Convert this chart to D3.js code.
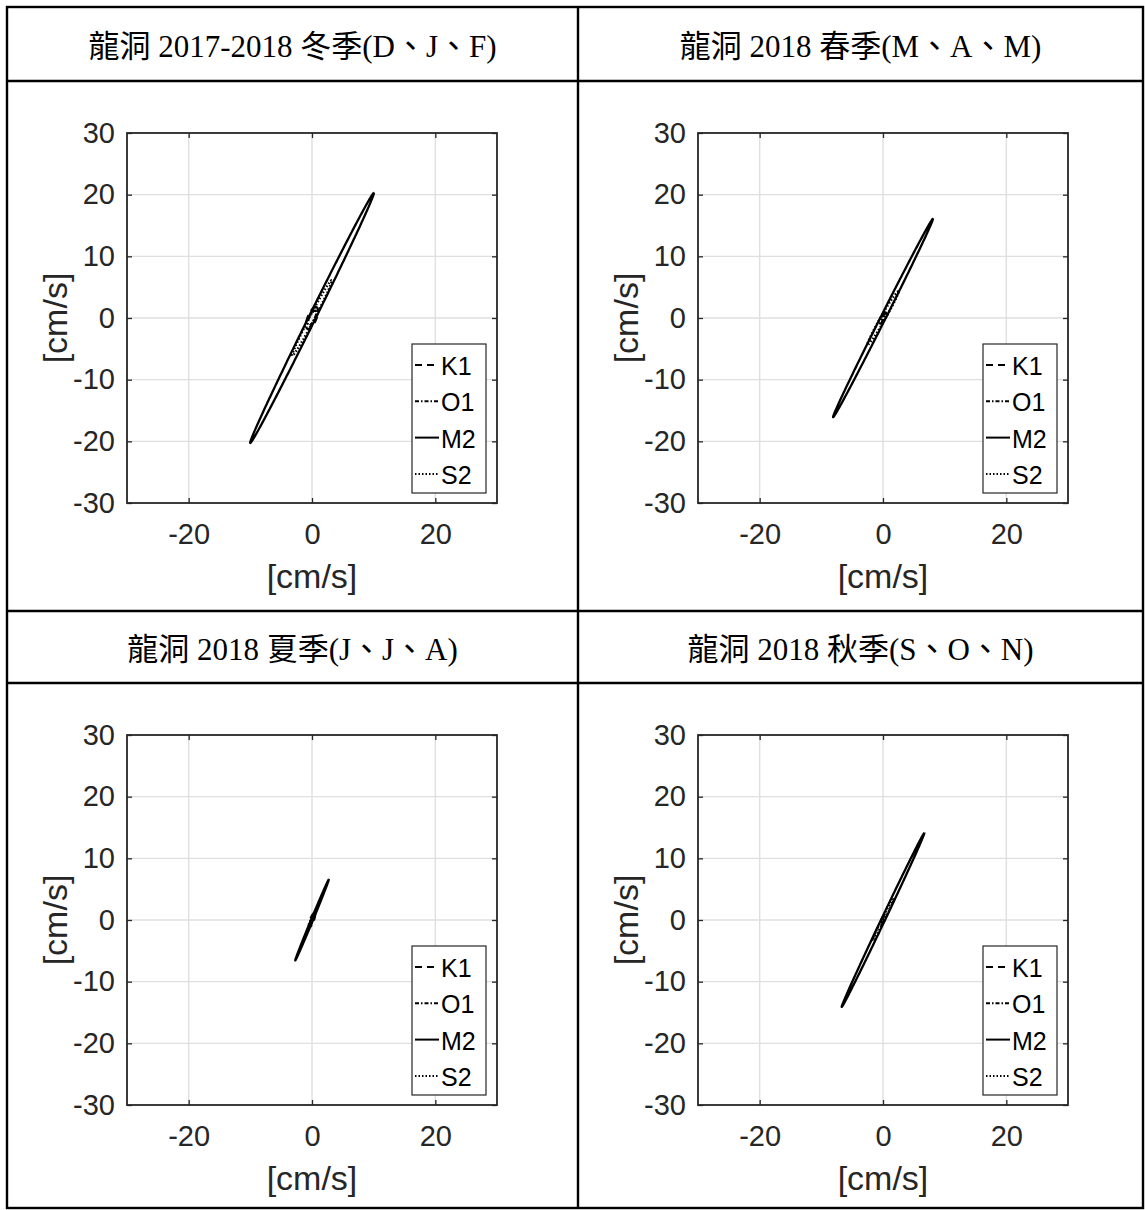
<!DOCTYPE html>
<html>
<head>
<meta charset="utf-8">
<script src="https://cdn.jsdelivr.net/npm/d3@7"></script>
<style>
  html, body { margin: 0; padding: 0; background: #fff; }
  svg { display: block; }
</style>
</head>
<body>
<svg id="chart" width="1145" height="1210"></svg>
<script>
// Season titles, in panel order: winter, spring, summer, autumn
const seasonTitles = [
  "龍洞 2017-2018 冬季(D、J、F)",
  "龍洞 2018 春季(M、A、M)",
  "龍洞 2018 夏季(J、J、A)",
  "龍洞 2018 秋季(S、O、N)"
];

// Tidal constituents, in legend order
const constituents = ["K1", "O1", "M2", "S2"];

// Tidal current ellipse parameters (cm/s and degrees from east),
// one row per constituent (K1, O1, M2, S2), one column per season
const semiMajor = [
  [1.9, 1.0, 1.2, 0.9],    // K1
  [1.3, 0.7, 0.8, 0.6],    // O1
  [22.6, 18.0, 7.1, 15.6], // M2
  [6.9, 5.0, 2.0, 3.8]     // S2
];
const semiMinor = [
  [0.70, 0.30, 0.30, 0.25],
  [0.45, 0.20, 0.20, 0.15],
  [0.55, 0.40, 0.15, 0.30],
  [0.40, 0.38, 0.10, 0.20]
];
const inclination = [
  [68, 65, 70, 66],
  [65, 60, 68, 64],
  [63.7, 63.3, 67.5, 64.6],
  [62.5, 60, 66, 63]
];

// Axis ticks
const xTicks = [-20, 0, 20];
const yTicks = [-30, -20, -10, 0, 10, 20, 30];
const axisDomain = [-30, 30];

// Line styles per constituent
const dashStyles = { K1: "7,5", O1: "4,2,1.5,2", M2: null, S2: "1.5,2" };

const svg = d3.select("#chart");

// ---- table frame ----
const table = { left: 7, right: 1143, top: 7, bottom: 1208, split: 578 };
const rowLines = [81, 611, 683];
const tableColor = "#000";

// ---- panel layout ----
const colLeft = [table.left, table.split];
const colRight = [table.split, table.right];
const headerTop = [table.top, rowLines[1]];
const headerBottom = [rowLines[0], rowLines[2]];
const plotSize = 370;
const plotOffsetX = 120;   // from cell's left edge to the axes box
const plotOffsetY = 52;    // from the header's bottom edge to the axes box

const axisColor = "#262626";
const gridColor = "#dfdfdf";
const tickFont = "'Liberation Sans', Arial, Helvetica, sans-serif";

function ellipsePoints(a, b, incDeg) {
  const th = incDeg * Math.PI / 180;
  return d3.range(0, 361, 1).map(deg => {
    const t = deg * Math.PI / 180;
    const u = a * Math.cos(t), v = b * Math.sin(t);
    return [u * Math.cos(th) - v * Math.sin(th), u * Math.sin(th) + v * Math.cos(th)];
  });
}

seasonTitles.forEach((title, i) => {
  const col = i % 2, row = Math.floor(i / 2);
  const cx = (colLeft[col] + colRight[col]) / 2;
  const cy = (headerTop[row] + headerBottom[row]) / 2 + 2;

  // header title
  svg.append("text")
    .attr("x", cx).attr("y", cy)
    .attr("text-anchor", "middle")
    .attr("dominant-baseline", "central")
    .attr("font-family", "'Liberation Serif', 'Times New Roman', 'Noto Sans CJK TC', serif")
    .attr("font-size", 31)
    .attr("fill", "#000")
    .text(title);

  const x0 = colLeft[col] + plotOffsetX;
  const y0 = headerBottom[row] + plotOffsetY;
  const x = d3.scaleLinear().domain(axisDomain).range([x0, x0 + plotSize]);
  const y = d3.scaleLinear().domain(axisDomain).range([y0 + plotSize, y0]);

  const g = svg.append("g");

  // grid
  g.append("g").selectAll("line").data(xTicks).join("line")
    .attr("x1", d => x(d)).attr("x2", d => x(d))
    .attr("y1", y(axisDomain[0])).attr("y2", y(axisDomain[1]))
    .attr("stroke", gridColor).attr("stroke-width", 1.4);
  g.append("g").selectAll("line").data(yTicks.filter(d => d > axisDomain[0] && d < axisDomain[1])).join("line")
    .attr("y1", d => y(d)).attr("y2", d => y(d))
    .attr("x1", x(axisDomain[0])).attr("x2", x(axisDomain[1]))
    .attr("stroke", gridColor).attr("stroke-width", 1.4);

  // axes (ticks point inward on all four sides)
  const styleAxis = sel => {
    sel.select(".domain").remove();
    sel.selectAll(".tick line").attr("stroke", axisColor).attr("stroke-width", 1.3);
    sel.selectAll(".tick text").attr("fill", axisColor).attr("font-family", tickFont).attr("font-size", 29);
  };
  g.append("g").attr("transform", `translate(0,${y0 + plotSize})`)
    .call(d3.axisBottom(x).tickValues(xTicks).tickSize(-5).tickPadding(20).tickFormat(d => String(d)))
    .call(styleAxis);
  g.append("g").attr("transform", `translate(${x0},0)`)
    .call(d3.axisLeft(y).tickValues(yTicks).tickSize(-5).tickPadding(12).tickFormat(d => String(d)))
    .call(styleAxis);
  g.append("g").attr("transform", `translate(0,${y0})`)
    .call(d3.axisTop(x).tickValues(xTicks).tickSize(-5).tickFormat(""))
    .call(styleAxis);
  g.append("g").attr("transform", `translate(${x0 + plotSize},0)`)
    .call(d3.axisRight(y).tickValues(yTicks).tickSize(-5).tickFormat(""))
    .call(styleAxis);

  g.append("rect")
    .attr("x", x0).attr("y", y0).attr("width", plotSize).attr("height", plotSize)
    .attr("fill", "none").attr("stroke", axisColor).attr("stroke-width", 1.8);

  // axis labels
  g.append("text")
    .attr("x", x(0)).attr("y", y0 + plotSize + 73)
    .attr("text-anchor", "middle").attr("dominant-baseline", "central")
    .attr("font-family", tickFont).attr("font-size", 34).attr("fill", axisColor)
    .text("[cm/s]");
  g.append("text")
    .attr("transform", `translate(${x0 - 72},${y(0)}) rotate(-90)`)
    .attr("text-anchor", "middle").attr("dominant-baseline", "central")
    .attr("font-family", tickFont).attr("font-size", 34).attr("fill", axisColor)
    .text("[cm/s]");

  // tidal ellipses
  const line = d3.line().x(d => x(d[0])).y(d => y(d[1]));
  constituents.forEach((c, k) => {
    g.append("path")
      .attr("d", line(ellipsePoints(semiMajor[k][i], semiMinor[k][i], inclination[k][i])))
      .attr("fill", "none")
      .attr("stroke", "#000")
      .attr("stroke-width", 2.3)
      .attr("stroke-dasharray", dashStyles[c]);
  });

  // legend
  const lw = 74, lh = 149;
  const lx = x0 + plotSize - 11 - lw;
  const ly = y0 + plotSize - 10 - lh;
  const lg = g.append("g").attr("transform", `translate(${lx},${ly})`);
  lg.append("rect").attr("width", lw).attr("height", lh)
    .attr("fill", "#fff").attr("stroke", axisColor).attr("stroke-width", 1.2);
  constituents.forEach((c, k) => {
    const ry = 21 + k * 36.3;
    lg.append("line").attr("x1", 3).attr("x2", 27).attr("y1", ry).attr("y2", ry)
      .attr("stroke", "#000").attr("stroke-width", 2)
      .attr("stroke-dasharray", dashStyles[c]);
    lg.append("text").attr("x", 29).attr("y", ry + 1)
      .attr("dominant-baseline", "central")
      .attr("font-family", tickFont).attr("font-size", 25).attr("fill", "#000")
      .text(c);
  });
});

// table grid lines
const frame = svg.append("g").attr("stroke", tableColor).attr("stroke-width", 2.4).attr("fill", "none");
frame.append("rect")
  .attr("x", table.left).attr("y", table.top)
  .attr("width", table.right - table.left).attr("height", table.bottom - table.top);
frame.append("line").attr("x1", table.split).attr("x2", table.split)
  .attr("y1", table.top).attr("y2", table.bottom);
rowLines.forEach(ry => {
  frame.append("line").attr("x1", table.left).attr("x2", table.right)
    .attr("y1", ry).attr("y2", ry);
});
</script>
</body>
</html>
